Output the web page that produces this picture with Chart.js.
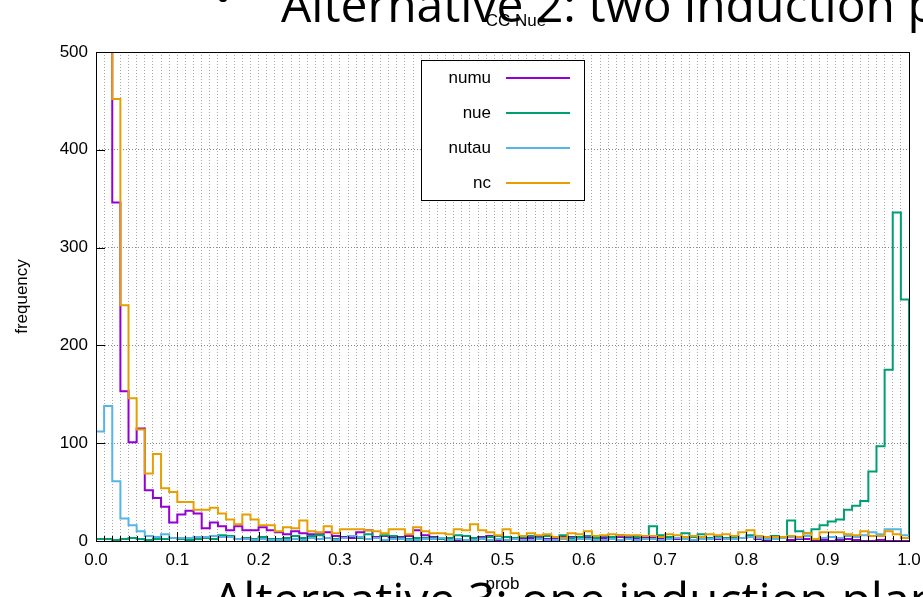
<!DOCTYPE html>
<html>
<head>
<meta charset="utf-8">
<title>CC Nue</title>
<script src="https://cdn.jsdelivr.net/npm/chart.js@4.4.1/dist/chart.umd.min.js"></script>
<style>
  html, body { margin: 0; padding: 0; background: #fff; }
  #wrap { position: relative; width: 923px; height: 597px; overflow: hidden; }
</style>
</head>
<body>
<div id="wrap">
  <canvas id="chart" width="923" height="597"></canvas>
</div>
<script>
// histogram bins, width 0.01 on prob; last entry is the bin at 1.0
const BIN = 0.01;
const seriesNames = ['numu', 'nue', 'nutau', 'nc'];
const seriesColors = ['#9400d3', '#009e73', '#56b4e9', '#e69f00'];

const numu = [900, 700, 346, 153, 101, 115, 52, 44, 35, 19,
  27, 31, 28, 13, 19, 15, 11, 15, 11, 11,
  14, 11, 9, 7, 10, 8, 7, 7, 9, 5,
  4, 3, 9, 11, 4, 5, 4, 4, 5, 11,
  6, 4, 3, 1, 1, 1, 2, 4, 5, 1,
  4, 3, 3, 3, 4, 2, 3, 4, 4, 3,
  3, 1, 3, 2, 4, 3, 2, 3, 4, 2,
  3, 2, 3, 1, 2, 3, 2, 3, 5, 3,
  4, 2, 1, 2, 3, 1, 2, 2, 0, 1,
  0, 1, 2, 1, 0, 0, 1, 0, 0, 0, 0];

const nue = [2, 2, 1, 2, 3, 2, 1, 2, 2, 3,
  2, 1, 2, 3, 2, 6, 5, 2, 3, 2,
  4, 2, 2, 3, 5, 3, 5, 6, 3, 2,
  3, 5, 3, 7, 3, 6, 5, 3, 2, 3,
  3, 3, 2, 3, 6, 5, 3, 3, 4, 5,
  4, 3, 4, 5, 3, 5, 4, 6, 3, 4,
  5, 3, 5, 4, 6, 5, 4, 5, 15, 6,
  4, 3, 8, 4, 7, 3, 4, 3, 4, 3,
  6, 3, 4, 5, 4, 21, 10, 8, 12, 16,
  20, 22, 32, 36, 41, 71, 97, 175, 336, 247, 2];

const nutau = [112, 138, 61, 23, 16, 10, 5, 4, 7, 3,
  3, 3, 4, 4, 5, 4, 4, 2, 2, 1,
  2, 1, 1, 1, 2, 1, 3, 2, 3, 1,
  3, 5, 4, 2, 3, 1, 2, 2, 1, 1,
  2, 2, 3, 1, 2, 1, 1, 2, 1, 2,
  1, 2, 1, 1, 2, 1, 1, 2, 1, 2,
  2, 1, 1, 2, 1, 2, 1, 2, 2, 1,
  2, 3, 2, 1, 2, 2, 3, 2, 2, 3,
  4, 3, 2, 2, 3, 4, 3, 5, 2, 3,
  4, 3, 5, 4, 6, 9, 7, 12, 12, 6, 6];

const nc = [900, 640, 452, 241, 146, 114, 69, 89, 54, 50,
  40, 40, 32, 32, 34, 28, 22, 17, 27, 22,
  16, 16, 10, 14, 13, 21, 10, 9, 15, 8,
  12, 12, 12, 11, 10, 8, 12, 12, 7, 14,
  10, 8, 8, 7, 12, 11, 17, 11, 9, 6,
  12, 8, 5, 8, 6, 7, 4, 3, 8, 7,
  10, 5, 6, 7, 6, 6, 6, 5, 5, 4,
  7, 6, 4, 5, 4, 7, 6, 7, 5, 9,
  11, 5, 4, 4, 4, 5, 4, 8, 2, 9,
  9, 9, 7, 6, 10, 5, 5, 10, 7, 3, 3];

const xTickLabels = ['0.0', '0.1', '0.2', '0.3', '0.4', '0.5', '0.6', '0.7', '0.8', '0.9', '1.0'];
const yTicks = [0, 100, 200, 300, 400, 500];

const slideTop = 'Alternative 2: two induction planes';
const slideBottom = 'Alternative 3: one induction plane';

const FONT = '"Liberation Sans", Arial, sans-serif';

function toSteps(vals) {
  return vals.map((v, i) => ({ x: i * BIN, y: v }));
}

const allSeries = [numu, nue, nutau, nc];

// slide text behind the chart, plot title, frame, inward tics, gnuplot-style key
const gnuplotLook = {
  id: 'gnuplotLook',
  beforeDraw(chart) {
    const ctx = chart.ctx;
    ctx.save();
    ctx.fillStyle = '#000';
    ctx.font = '48px "Open Sans", sans-serif';
    ctx.textBaseline = 'alphabetic';
    ctx.textAlign = 'left';
    ctx.fillText('\u2022', 214, 14);
    ctx.fillText(slideTop, 281, 22);
    ctx.fillText(slideBottom, 213, 617);
    ctx.restore();
  },
  afterDatasetsDraw(chart) {
    const ctx = chart.ctx;
    const a = chart.chartArea;
    const xs = chart.scales.x, ys = chart.scales.y;
    ctx.save();
    ctx.strokeStyle = '#000';
    ctx.lineWidth = 1;
    ctx.beginPath();
    xs.ticks.forEach((t, i) => {
      const px = Math.round(xs.getPixelForValue(t.value)) + 0.5;
      const len = i % 10 === 0 ? 9 : 5;
      ctx.moveTo(px, a.bottom);
      ctx.lineTo(px, a.bottom - len);
    });
    yTicks.forEach(v => {
      const py = Math.round(ys.getPixelForValue(v)) + 0.5;
      ctx.moveTo(a.left, py);
      ctx.lineTo(a.left + 9, py);
    });
    ctx.stroke();
    ctx.strokeRect(Math.round(a.left) + 0.5, Math.round(a.top) + 0.5,
      Math.round(a.right - a.left), Math.round(a.bottom - a.top));
    ctx.restore();
  },
  afterDraw(chart) {
    const ctx = chart.ctx;
    ctx.save();
    // title
    ctx.fillStyle = '#000';
    ctx.font = '17px ' + FONT;
    ctx.textAlign = 'center';
    ctx.textBaseline = 'middle';
    ctx.fillText('CC Nue', 516, 21);
    // key
    ctx.fillStyle = '#fff';
    ctx.fillRect(421, 60, 163, 140);
    ctx.strokeStyle = '#000';
    ctx.lineWidth = 1;
    ctx.strokeRect(421.5, 60.5, 163, 140);
    ctx.textAlign = 'right';
    chart.data.datasets.forEach((ds, i) => {
      const y = 78 + i * 35;
      ctx.fillStyle = '#000';
      ctx.fillText(ds.label, 491, y);
      ctx.strokeStyle = ds.borderColor;
      ctx.lineWidth = 2;
      ctx.beginPath();
      ctx.moveTo(506, y);
      ctx.lineTo(570, y);
      ctx.stroke();
    });
    ctx.restore();
  }
};

new Chart(document.getElementById('chart'), {
  type: 'line',
  data: {
    datasets: allSeries.map((vals, i) => ({
      label: seriesNames[i],
      data: toSteps(vals),
      borderColor: seriesColors[i],
      backgroundColor: seriesColors[i],
      borderWidth: 2,
      pointRadius: 0,
      stepped: 'before',
      fill: false,
      order: allSeries.length - 1 - i
    }))
  },
  options: {
    responsive: false,
    animation: false,
    events: [],
    layout: { padding: { left: 0, right: 14, top: 52, bottom: 0 } },
    plugins: {
      legend: { display: false },
      title: { display: false },
      tooltip: { enabled: false }
    },
    scales: {
      x: {
        type: 'linear',
        min: 0,
        max: 1,
        afterFit(scale) {
          scale.height = 56;
          scale.paddingLeft = 0;
          scale.paddingRight = 0;
        },
        ticks: {
          stepSize: BIN,
          autoSkip: false,
          maxRotation: 0,
          padding: 9,
          color: '#000',
          font: { family: FONT, size: 17 },
          callback: (v, i) => (i % 10 === 0 ? xTickLabels[i / 10] : '')
        },
        grid: { color: '#a8a8a8', lineWidth: 1, drawTicks: false },
        border: { display: false, dash: [1, 2] },
        title: {
          display: true,
          text: 'prob',
          color: '#000',
          font: { family: FONT, size: 17 },
          padding: { top: 0, bottom: 2.8 }
        }
      },
      y: {
        min: 0,
        max: 500,
        afterFit(scale) { scale.width = 96; },
        ticks: {
          stepSize: 100,
          padding: 8,
          color: '#000',
          font: { family: FONT, size: 17 }
        },
        grid: { color: '#888', lineWidth: 1, drawTicks: false },
        border: { display: false, dash: [1, 2] },
        title: {
          display: true,
          text: 'frequency',
          color: '#000',
          font: { family: FONT, size: 17 },
          padding: { top: 11.8, bottom: 0 }
        }
      }
    }
  },
  plugins: [gnuplotLook]
});
</script>
</body>
</html>
